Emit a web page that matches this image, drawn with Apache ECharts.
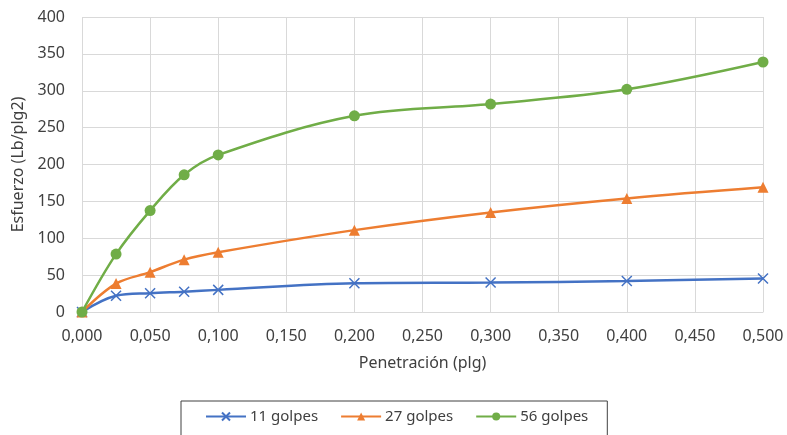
<!DOCTYPE html>
<html>
<head>
<meta charset="utf-8">
<script src="https://cdn.jsdelivr.net/npm/echarts@6/dist/echarts.min.js"></script>
<style>
  html, body { margin: 0; padding: 0; background: #fff; }
  #chart { width: 787px; height: 435px; }
</style>
</head>
<body>
<div id="chart"></div>
<script>
// Penetration (in) against stress (lb/in²) for three compaction energies
const penetracion = [0, 0.025, 0.05, 0.075, 0.1, 0.2, 0.3, 0.4, 0.5];
const golpes11 = [0, 22, 25.5, 27.5, 30, 39, 40, 42, 45.5];
const golpes27 = [0, 38.5, 54, 71, 81, 111, 135, 154, 169];
const golpes56 = [0, 78.5, 137.5, 186, 213, 266, 282, 302, 339];
const seriesNames = ['11 golpes', '27 golpes', '56 golpes'];
const seriesColors = ['#4472C4', '#ED7D31', '#70AD47'];

const FONT = "'Noto Sans', 'Open Sans', sans-serif";
const crossPath = 'path://M0,0L10,10M10,0L0,10';

function pairs(ys) {
  return penetracion.map((x, i) => [x, ys[i]]);
}

const chart = echarts.init(document.getElementById('chart'), null, { renderer: 'canvas' });

const symbols = [crossPath, 'triangle', 'circle'];
const symbolSizes = [10, 11, 11];
const values = [golpes11, golpes27, golpes56];

chart.setOption({
  animation: false,
  backgroundColor: '#ffffff',
  textStyle: { fontFamily: FONT },
  grid: { left: 82, right: 24, top: 17, bottom: 123, containLabel: false },
  xAxis: {
    type: 'value',
    min: 0,
    max: 0.5,
    interval: 0.05,
    name: 'Penetración (plg)',
    nameLocation: 'middle',
    nameGap: 43,
    nameTextStyle: { fontFamily: FONT, fontSize: 16, color: '#404040' },
    axisLine: { show: true, lineStyle: { color: '#d9d9d9', width: 1 } },
    axisTick: { show: false },
    axisLabel: {
      fontFamily: FONT, fontSize: 16, color: '#404040', margin: 16,
      formatter: v => v.toFixed(3).replace('.', ',')
    },
    splitLine: { show: true, lineStyle: { color: '#d9d9d9', width: 1 } }
  },
  yAxis: {
    type: 'value',
    min: 0,
    max: 400,
    interval: 50,
    name: 'Esfuerzo (Lb/plg2)',
    nameLocation: 'middle',
    nameGap: 49,
    nameRotate: 90,
    nameTextStyle: { fontFamily: FONT, fontSize: 16, color: '#404040' },
    axisLine: { show: false },
    axisTick: { show: false },
    axisLabel: { fontFamily: FONT, fontSize: 16, color: '#404040', margin: 17 },
    splitLine: { show: true, lineStyle: { color: '#d9d9d9', width: 1 } }
  },
  legend: {
    top: 401,
    left: 181,
    padding: [8, 19, 14, 24],
    itemGap: 22,
    itemWidth: 40,
    itemHeight: 10,
    borderColor: '#404040',
    borderWidth: 1,
    textStyle: { fontFamily: FONT, fontSize: 15, color: '#404040', padding: [0, 0, 0, -1] },
    data: seriesNames
  },
  series: seriesNames.map((name, i) => ({
    name,
    type: 'line',
    data: pairs(values[i]),
    smooth: 0.35,
    symbol: symbols[i],
    symbolSize: symbolSizes[i],
    lineStyle: { color: seriesColors[i], width: 2.5 },
    itemStyle: i === 0
      ? { color: seriesColors[i], borderColor: seriesColors[i], borderWidth: 1.5 }
      : { color: seriesColors[i], borderWidth: 0 },
    emphasis: { disabled: true },
    z: 2 + i
  }))
});
</script>
</body>
</html>
